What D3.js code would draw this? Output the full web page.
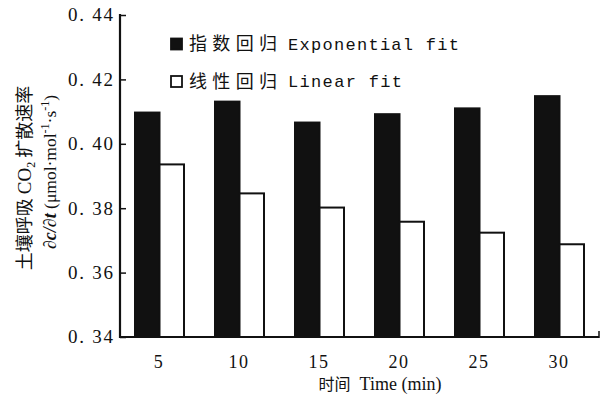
<!DOCTYPE html>
<html>
<head>
<meta charset="utf-8">
<script src="https://cdn.jsdelivr.net/npm/d3@7"></script>
<style>
  body { margin: 0; background: #fff; }
  svg { display: block; }
  .num { font-family: "Liberation Serif", "DejaVu Serif", serif; fill: #111; }
  .cjk { font-family: "Noto Sans CJK SC", sans-serif; fill: #111; }
  .mono { font-family: "Liberation Mono", "DejaVu Sans Mono", monospace; fill: #111; }
</style>
</head>
<body>
<svg id="chart" width="610" height="408"></svg>
<script>
// Data
const times = ['5', '10', '15', '20', '25', '30'];
const seriesKeys = ['exp', 'lin'];
const expValues = [0.4097, 0.4131, 0.4066, 0.4092, 0.4110, 0.4148];
const linValues = [0.3936, 0.3846, 0.3802, 0.3758, 0.3724, 0.3688];
const yTicks = [0.34, 0.36, 0.38, 0.40, 0.42, 0.44];
const legendCn = ['指数回归', '线性回归'];
const legendEn = ['Exponential fit', 'Linear fit'];

const rows = times.map((t, i) => ({ time: t, exp: expValues[i], lin: linValues[i] }));

const margin = { top: 15, right: 10, bottom: 71, left: 120 };
const width = 600 - margin.left;
const height = 337 - margin.top;

const svg = d3.select('#chart');
const chart = svg.append('g').attr('transform', `translate(${margin.left},${margin.top})`);

// Scales
const xScale = d3.scaleBand().domain(times).range([0, width]);
const xInner = d3.scaleBand().domain(seriesKeys).range([15, 64]);
const yScale = d3.scaleLinear().domain([0.34, 0.44]).range([height, 0]);

const fillOf = { exp: '#111', lin: '#fff' };

// Bars
chart.selectAll('g.group')
  .data(rows)
  .join('g')
  .attr('class', 'group')
  .attr('transform', (d) => `translate(${xScale(d.time)},0)`)
  .selectAll('rect')
  .data((d) => seriesKeys.map((k) => ({ key: k, value: d[k] })))
  .join('rect')
  .attr('x', (d) => xInner(d.key))
  .attr('width', xInner.bandwidth())
  .attr('y', (d) => yScale(d.value))
  .attr('height', (d) => height - yScale(d.value))
  .attr('fill', (d) => fillOf[d.key])
  .attr('stroke', '#111')
  .attr('stroke-width', 2);

// Y axis: ticks point inward
const yAxis = d3.axisRight(yScale).tickValues(yTicks).tickSize(6).tickFormat('');
const yAxisG = chart.append('g').call(yAxis);
yAxisG.select('.domain').remove();
yAxisG.selectAll('.tick line').attr('stroke', '#111').attr('stroke-width', 1.5);
chart.append('line')
  .attr('x1', 0).attr('x2', 0)
  .attr('y1', -1).attr('y2', height + 1)
  .attr('stroke', '#111').attr('stroke-width', 2.2);

chart.selectAll('text.ylab')
  .data(yTicks)
  .join('text')
  .attr('class', 'ylab num')
  .attr('x', -7)
  .attr('y', (d) => yScale(d))
  .attr('dy', '0.34em')
  .attr('text-anchor', 'end')
  .attr('font-size', 19)
  .attr('textLength', 45)
  .attr('lengthAdjust', 'spacing')
  .text((d) => d3.format('.2f')(d).replace('.', '. '));

// X axis
chart.append('line')
  .attr('x1', -1).attr('x2', width - 1)
  .attr('y1', height).attr('y2', height)
  .attr('stroke', '#111').attr('stroke-width', 2.2);
chart.append('line')
  .attr('x1', width - 1).attr('x2', width - 1)
  .attr('y1', height + 1).attr('y2', height - 6)
  .attr('stroke', '#111').attr('stroke-width', 1.5);

chart.selectAll('text.xlab')
  .data(times)
  .join('text')
  .attr('class', 'xlab num')
  .attr('x', (d) => xScale(d) + xScale.bandwidth() / 2 - 1)
  .attr('y', height + 31)
  .attr('text-anchor', 'middle')
  .attr('font-size', 18)
  .attr('letter-spacing', 1.5)
  .text((d) => d);

// X axis title
const xTitle = svg.append('text')
  .attr('x', 380)
  .attr('y', 390)
  .attr('text-anchor', 'middle');
xTitle.append('tspan').attr('class', 'cjk').attr('font-size', 16).text('时间');
xTitle.append('tspan').attr('class', 'num').attr('font-size', 18).attr('dx', 9).text('Time (min)');

// Y axis title (two rotated lines)
const yTitle1 = svg.append('text')
  .attr('transform', 'translate(31,178) rotate(-90)')
  .attr('text-anchor', 'middle');
yTitle1.append('tspan').attr('class', 'cjk').attr('font-size', 18).text('土壤呼吸 ');
yTitle1.append('tspan').attr('class', 'num').attr('font-size', 19).text('CO');
yTitle1.append('tspan').attr('class', 'num').attr('font-size', 12).attr('dy', 4).text('2');
yTitle1.append('tspan').attr('class', 'cjk').attr('font-size', 18).attr('dy', -4).text(' 扩散速率');

const yTitle2 = svg.append('text')
  .attr('transform', 'translate(56,172) rotate(-90)')
  .attr('text-anchor', 'middle');
yTitle2.append('tspan').attr('class', 'num').attr('font-size', 18).attr('font-style', 'italic').attr('font-weight', 'bold').text('∂c/∂t');
yTitle2.append('tspan').attr('class', 'num').attr('font-size', 17.5).text(' (μmol·mol');
yTitle2.append('tspan').attr('class', 'num').attr('font-size', 12).attr('dy', -7).text('-1');
yTitle2.append('tspan').attr('class', 'num').attr('font-size', 17.5).attr('dy', 7).text('·s');
yTitle2.append('tspan').attr('class', 'num').attr('font-size', 12).attr('dy', -7).text('-1');
yTitle2.append('tspan').attr('class', 'num').attr('font-size', 17.5).attr('dy', 7).text(')');

// Legend
const legend = svg.append('g');
const legendRows = legend.selectAll('g')
  .data(seriesKeys)
  .join('g')
  .attr('transform', (d, i) => `translate(170,${44 + i * 37.5})`);

legendRows.append('rect')
  .attr('x', 1).attr('y', -5.5)
  .attr('width', 11).attr('height', 11)
  .attr('fill', (d) => fillOf[d])
  .attr('stroke', '#111')
  .attr('stroke-width', 1.8);

legendRows.append('text')
  .attr('class', 'cjk')
  .attr('x', 19)
  .attr('dy', '0.36em')
  .attr('font-size', 18)
  .attr('textLength', 88)
  .attr('lengthAdjust', 'spacing')
  .text((d, i) => legendCn[i]);

legendRows.append('text')
  .attr('class', 'mono')
  .attr('x', 118)
  .attr('dy', '0.35em')
  .attr('font-size', 17)
  .attr('textLength', (d, i) => legendEn[i].length * 11.4)
  .attr('lengthAdjust', 'spacing')
  .text((d, i) => legendEn[i]);
</script>
</body>
</html>
